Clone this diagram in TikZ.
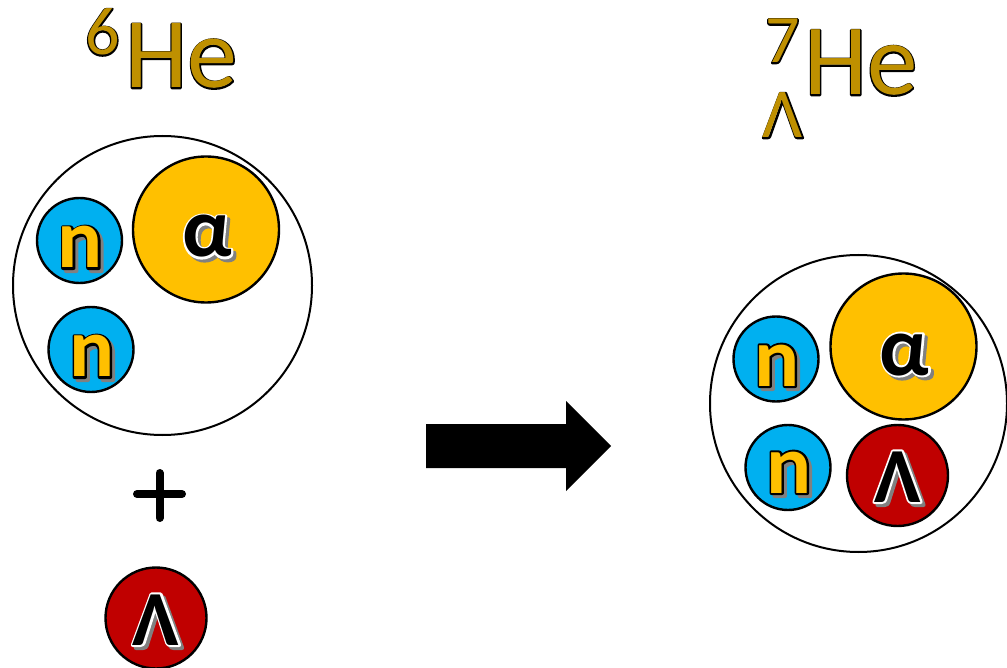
\documentclass[tikz,border=0pt]{standalone}
\usepackage{fontspec}
\setmainfont{Carlito}
\usetikzlibrary{calc}

\definecolor{neutronblue}{HTML}{00B0F0}
\definecolor{alphagold}{HTML}{FFC000}
\definecolor{lambdared}{HTML}{C00000}
\definecolor{titlegold}{HTML}{BF9000}
\definecolor{shadowgray}{RGB}{128,128,128}

% #4 drawn as a stroke of rgb #2 and width #3 (PDF text render mode #1)
\newcommand\strokeonly[4]{\special{pdf:code #1 Tr #3 w 1 j #2 RG}#4\special{pdf:code 0 Tr}}
% text filled with #1 over a wide stroke of #2, so the outline lies outside the glyph
\newcommand\outlinetext[4]{\rlap{\strokeonly{1}{#2}{#3}{#4}}{\color{#1}#4}}
% particle letter: fill #1, outline #2, grey drop shadow behind
\newcommand\particletext[3]{%
  \rlap{\hspace{3pt}\raisebox{-3pt}{\color{shadowgray}\strokeonly{2}{0.5 0.5 0.5}{4}{#3}}}%
  \outlinetext{#1}{#2}{4}{#3}}
% title text: gold with a thin black outline
\newcommand\titletext[1]{\outlinetext{titlegold}{0 0 0}{2.6}{#1}}

\begin{document}
\begin{tikzpicture}[x=1pt,y=-1pt,
  shell/.style={circle, draw=black, line width=2pt, inner sep=0pt, minimum size=#1},
  particle/.style={circle, draw=black, line width=2.4pt, inner sep=0pt, minimum size=#1},
  neutron/.style={particle=85pt, fill=neutronblue},
  alphacore/.style={particle=146pt, fill=alphagold},
  lambda/.style={particle=101pt, fill=lambdared},
  plabel/.style={anchor=base, inner sep=0pt, font=\fontsize{84}{84}\selectfont\bfseries},
  title/.style={inner sep=0pt, font=\fontsize{#1}{#1}\selectfont},
]
\useasboundingbox (0,0) rectangle (1007,668);

% ---- 6He plus a Lambda ----
\node[title=100, anchor=base west] (heL) at (125,88) {\titletext{He}};
\node[title=68, anchor=base west] (sixL) at (85,55) {\titletext{6}};

\node[shell=299pt] (nucL) at (162.5,285.5) {};
\node[neutron] (n1) at (79.5,240.5) {};
\node[neutron] (n2) at (91,349.5) {};
\node[alphacore] (a1) at (206,229.5) {};
\node[plabel] (n1t) at ($(n1.center)+(1,27.5)$) {\particletext{alphagold}{0 0 0}{n}};
\node[plabel] (n2t) at ($(n2.center)+(1,27.5)$) {\particletext{alphagold}{0 0 0}{n}};
\node[plabel] (a1t) at ($(a1.center)+(1,27.5)$) {\particletext{black}{1 1 1}{α}};

\draw[line width=8pt, line cap=round] (137,494) -- (182,494) (159.5,473) -- (159.5,518);

\node[lambda] (l1) at (156,618) {};
\node[plabel, font=\fontsize{78}{78}\selectfont\bfseries] (l1t) at ($(l1.center)+(0,27)$) {\particletext{black}{1 1 1}{Λ}};

% ---- reaction arrow ----
\fill (426,424) -- (566,424) -- (566,401) -- (611,446) -- (566,491) -- (566,468) -- (426,468) -- cycle;

% ---- hypernucleus 7ΛHe ----
\node[title=101, anchor=base west] (heR) at (804,95) {\titletext{He}};
\node[title=68, anchor=base west] (sevenR) at (765,63) {\titletext{7}};
\node[title=70, anchor=base] (lamR) at (783,138) {\titletext{Λ}};

\node[shell=297pt] (nucR) at (858.5,403.5) {};
\node[neutron] (n3) at (776,359) {};
\node[neutron] (n4) at (788,467.5) {};
\node[alphacore] (a2) at (903.5,346.5) {};
\node[lambda] (l2) at (897.5,475.5) {};
\node[plabel] (n3t) at ($(n3.center)+(1,27)$) {\particletext{alphagold}{0 0 0}{n}};
\node[plabel] (n4t) at ($(n4.center)+(1,25.5)$) {\particletext{alphagold}{0 0 0}{n}};
\node[plabel] (a2t) at ($(a2.center)+(1,28.5)$) {\particletext{black}{1 1 1}{α}};
\node[plabel, font=\fontsize{78}{78}\selectfont\bfseries] (l2t) at ($(l2.center)+(0,26.5)$) {\particletext{black}{1 1 1}{Λ}};
\end{tikzpicture}
\end{document}
